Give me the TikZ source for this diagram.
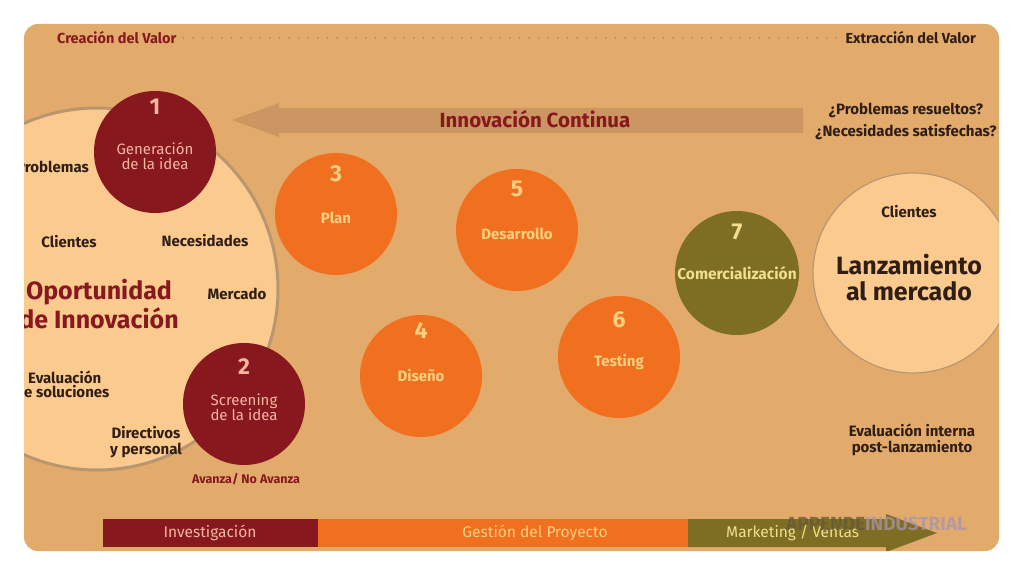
\documentclass[tikz,border=0pt]{standalone}
\usepackage{fontspec}
\setmainfont{Fira Sans}
\definecolor{bg}{RGB}{226,171,108}
\definecolor{band}{RGB}{204,150,98}
\definecolor{peach}{RGB}{250,202,142}
\definecolor{peachline}{RGB}{186,150,112}
\definecolor{dred}{RGB}{135,24,30}
\definecolor{orng}{RGB}{241,112,32}
\definecolor{olive}{RGB}{126,110,36}
\definecolor{dk}{RGB}{48,30,20}
\definecolor{pinktxt}{RGB}{246,182,160}
\definecolor{yeltxt}{RGB}{252,208,128}
\definecolor{olvtxt}{RGB}{242,222,140}
\definecolor{dotc}{RGB}{165,135,105}
\tikzset{
  circ/.style={circle, inner sep=0pt, minimum size=122pt},
  lbl/.style={inner sep=0pt, align=center, text=dk, font=\bfseries\fontsize{15}{16}\selectfont},
  redlbl/.style={inner sep=0pt, align=center, text=dred, font=\bfseries\fontsize{14.5}{16}\selectfont},
  numr/.style={inner sep=0pt, text=pinktxt, font=\bfseries\fontsize{23}{23}\selectfont},
  txtr/.style={inner sep=0pt, align=center, text=pinktxt, font=\fontsize{15}{15}\selectfont},
  numo/.style={inner sep=0pt, text=yeltxt, font=\bfseries\fontsize{23}{23}\selectfont},
  txto/.style={inner sep=0pt, align=center, text=yeltxt, font=\bfseries\fontsize{15}{15}\selectfont},
  bartxt/.style={inner sep=0pt, font=\fontsize{15.5}{16}\selectfont},
  big/.style={inner sep=0pt, align=center, font=\bfseries\fontsize{25}{26}\selectfont}
}
\begin{document}
\begin{tikzpicture}[x=1pt,y=-1pt]
\useasboundingbox (0,0) rectangle (1024,577);
\fill[white] (0,0) rectangle (1024,577);
\fill[bg, rounded corners=14pt] (24,24) rectangle (999,551);
\begin{scope}
\clip[rounded corners=14pt] (24,24) rectangle (999,551);

% top line
\node[redlbl, anchor=west] (cv) at (57,38) {Creación del Valor};
\node[lbl, anchor=east, font=\bfseries\fontsize{14.5}{16}\selectfont] (ev) at (976,38) {Extracción del Valor};
\draw[dotc, line width=1.8pt, line cap=round, dash pattern=on 0pt off 9.6pt] ([xshift=7pt]cv.east) -- ([xshift=-7pt]ev.west);

% innovation band arrow
\fill[band] (803,108) -- (279,108) -- (279,103) -- (232,120) -- (279,137) -- (279,133) -- (803,133) -- cycle;
\node[redlbl, font=\bfseries\fontsize{20.5}{21}\selectfont] (ic) at (535,119) {Innovación Continua};
\node[lbl, font=\bfseries\fontsize{15}{22}\selectfont] (pq) at (906,121) {¿Problemas resueltos?\\¿Necesidades satisfechas?};

% left big circle
\node[circle, draw=peachline, line width=3pt, fill=peach, minimum size=362pt, inner sep=0] (opp) at (97,289) {};
\node[lbl, anchor=east] (prob) at (89,167) {Problemas};
\node[lbl] (cli1) at (69,242) {Clientes};
\node[lbl] (nec) at (205,241) {Necesidades};
\node[lbl] (mer) at (237,294) {Mercado};
\node[big, text=dred] (oi1) at (99,292) {Oportunidad};
\node[big, text=dred] (oi2) at (99,318) {de Innovación};
\node[lbl, anchor=west] (ev1) at (28,377) {Evaluación};
\node[lbl, anchor=west] (ev2) at (15,392) {de soluciones};
\node[lbl] (dir) at (146,442) {Directivos\\y personal};

% step circles
\node[circ, fill=dred] (c1) at (155,152) {};
\node[numr] (n1) at (155,107) {1};
\node[txtr] (t1) at (155,156) {Generación\\de la idea};

\node[circ, fill=dred] (c2) at (244,404) {};
\node[numr] (n2) at (244,367) {2};
\node[txtr] (t2) at (244,407) {Screening\\de la idea};
\node[redlbl, font=\bfseries\fontsize{12.5}{13}\selectfont] (av) at (246,479) {Avanza/ No Avanza};

\node[circ, fill=orng] (c3) at (336,214) {};
\node[numo] (n3) at (336,174) {3};
\node[txto] (t3) at (336,218) {Plan};

\node[circ, fill=orng] (c5) at (517,230) {};
\node[numo] (n5) at (517,189) {5};
\node[txto] (t5) at (517,234) {Desarrollo};

\node[circ, fill=orng] (c4) at (421,376) {};
\node[numo] (n4) at (421,331) {4};
\node[txto] (t4) at (421,376) {Diseño};

\node[circ, fill=orng] (c6) at (619,357) {};
\node[numo] (n6) at (619,320) {6};
\node[txto] (t6) at (619,362) {Testing};

\node[circ, fill=olive, minimum size=124pt] (c7) at (737,273) {};
\node[numo, text=olvtxt] (n7) at (737,232) {7};
\node[txto, text=olvtxt, font=\bfseries\fontsize{15.5}{15}\selectfont] (t7) at (737,273) {Comercialización};

% right big circle
\node[circle, draw=peachline, line width=1.2pt, fill=peach, minimum size=200pt, inner sep=0] (lan) at (913,273) {};
\node[lbl] (cli2) at (909,212) {Clientes};
\node[big, text=dk, font=\bfseries\fontsize{25}{26}\selectfont] (lm) at (909,278) {Lanzamiento\\al mercado};
\node[lbl, font=\bfseries\fontsize{15}{16}\selectfont] (eip) at (912,440) {Evaluación interna\\post-lanzamiento};

% bottom bar
\fill[dred] (103,519) rectangle (318,547);
\fill[orng] (318,519) rectangle (688,547);
\fill[olive] (688,519) -- (886,519) -- (886,514) -- (937,533) -- (886,552) -- (886,547) -- (688,547) -- cycle;
\node[bartxt, text=pinktxt] (inv) at (210,533) {Investigación};
\node[bartxt, text=yeltxt] (gp) at (535,533) {Gestión del Proyecto};
\node[bartxt, text=olvtxt, anchor=west] (mv) at (726,533) {Marketing / Ventas};
\node[inner sep=0, anchor=west, font=\bfseries\fontsize{19}{19}\selectfont, opacity=0.75] (wm) at (786,524) {\textcolor[RGB]{100,88,55}{APPENDE}\textcolor[RGB]{168,148,172}{INDUSTRIAL}};
\end{scope}
\end{tikzpicture}
\end{document}
